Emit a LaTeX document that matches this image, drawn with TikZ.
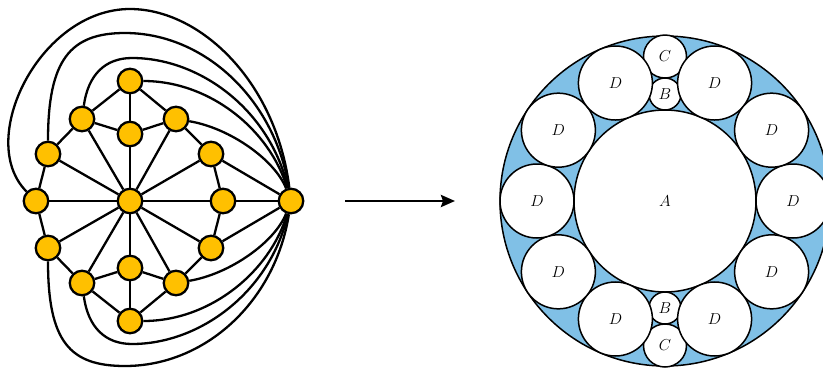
\documentclass[tikz,border=0pt]{standalone}
\usepackage{graphicx}
\usetikzlibrary{arrows.meta,backgrounds,calc}
\definecolor{nodeyellow}{RGB}{255,192,0}
\definecolor{ringblue}{RGB}{128,192,230}
\newcommand{\disklabel}[1]{\scalebox{1.1}{$#1$}}
\begin{document}
\begin{tikzpicture}[x=1pt,y=-1pt,
  vtx/.style={circle,draw=black,fill=nodeyellow,line width=2.3pt,minimum size=24.5pt,inner sep=0pt},
  edge/.style={line width=2.3pt},
  disk/.style={circle,draw=black,fill=white,line width=1.5pt,inner sep=0pt,font=\fontsize{14.4}{17}\selectfont},
  bigarrow/.style={line width=2.8pt,-{Stealth[length=14pt,width=12pt,inset=2pt]}}
]
\useasboundingbox (0,0) rectangle (823,368);
\clip (0,0) rectangle (823,368);

% ---------- left graph: vertices ----------
\node[vtx] (c)  at (130,201) {};
\node[vtx] (t)  at (130,81)  {};
\node[vtx] (ti) at (130,134) {};
\node[vtx] (b)  at (130,321) {};
\node[vtx] (bi) at (130,268) {};
\node[vtx] (ul) at (82,119)  {};
\node[vtx] (ur) at (176,119) {};
\node[vtx] (ll) at (82,283)  {};
\node[vtx] (lr) at (176,283) {};
\node[vtx] (l1) at (48,154)  {};
\node[vtx] (r1) at (211,154) {};
\node[vtx] (l2) at (36,201)  {};
\node[vtx] (r2) at (223,201) {};
\node[vtx] (l3) at (48,248)  {};
\node[vtx] (r3) at (211,248) {};
\node[vtx] (R)  at (291,201) {};

% ---------- left graph: edges ----------
\begin{scope}[on background layer]
  \foreach \v in {ti,ul,ur,l1,r1,l2,r2,l3,r3,ll,lr,bi}
    \draw[edge] (c) -- (\v);
  \foreach \a/\bb in {ti/t,ti/ul,ti/ur,bi/b,bi/ll,bi/lr,
                      t/ul,ul/l1,l1/l2,l2/l3,l3/ll,ll/b,b/lr,lr/r3,r3/r2,r2/r1,r1/ur,ur/t,
                      r1/R,r2/R,r3/R}
    \draw[edge] (\a) -- (\bb);
  % upper curves
  \draw[edge] (ur) .. controls (230,128) and (275,160) .. (R);
  \draw[edge] (t)  .. controls (210,81) and (270,130) .. (R);
  \draw[edge] (ul) .. controls (88,75) and (105,58) .. (132,58) .. controls (200,58) and (270,110) .. (R);
  \draw[edge] (l1) .. controls (48,60) and (70,33) .. (125,33) .. controls (205,33) and (275,100) .. (R);
  \draw[edge] (l2) .. controls (-25,140) and (40,9) .. (130,9) .. controls (200,9) and (276,81) .. (R);
  % lower curves
  \draw[edge] (lr) .. controls (230,274) and (275,242) .. (R);
  \draw[edge] (b)  .. controls (210,321) and (270,272) .. (R);
  \draw[edge] (ll) .. controls (88,327) and (105,344) .. (132,344) .. controls (200,344) and (270,292) .. (R);
  \draw[edge] (l3) .. controls (48,342) and (70,366) .. (125,366) .. controls (205,366) and (275,302) .. (R);
\end{scope}

% ---------- arrow ----------
\coordinate (arrS) at (345,201);
\coordinate (arrE) at (455,201);
\draw[bigarrow] (arrS) -- (arrE);

% ---------- right: circle packing ----------
\coordinate (ctr) at (665,201);
\node[circle,draw=black,fill=ringblue,line width=1.5pt,minimum size=330pt,inner sep=0pt] (ring) at (ctr) {};
\node[disk,minimum size=182pt] (A) at (ctr) {\disklabel{A}};
\node[disk,minimum size=32pt] (B1) at ($(ctr)+(0,-107)$) {\disklabel{B}};
\node[disk,minimum size=32pt] (B2) at ($(ctr)+(0,107)$) {\disklabel{B}};
\node[disk,minimum size=43pt] (C1) at ($(ctr)+(0,-144.5)$) {\disklabel{C}};
\node[disk,minimum size=43pt] (C2) at ($(ctr)+(0,144.5)$) {\disklabel{C}};
\foreach \ang [count=\i] in {0,33.6,67.2,112.8,146.4,180,213.6,247.2,292.8,326.4}
  \node[disk,minimum size=74pt] (D\i) at ($(ctr)+(\ang:128)$) {\disklabel{D}};
\end{tikzpicture}
\end{document}
